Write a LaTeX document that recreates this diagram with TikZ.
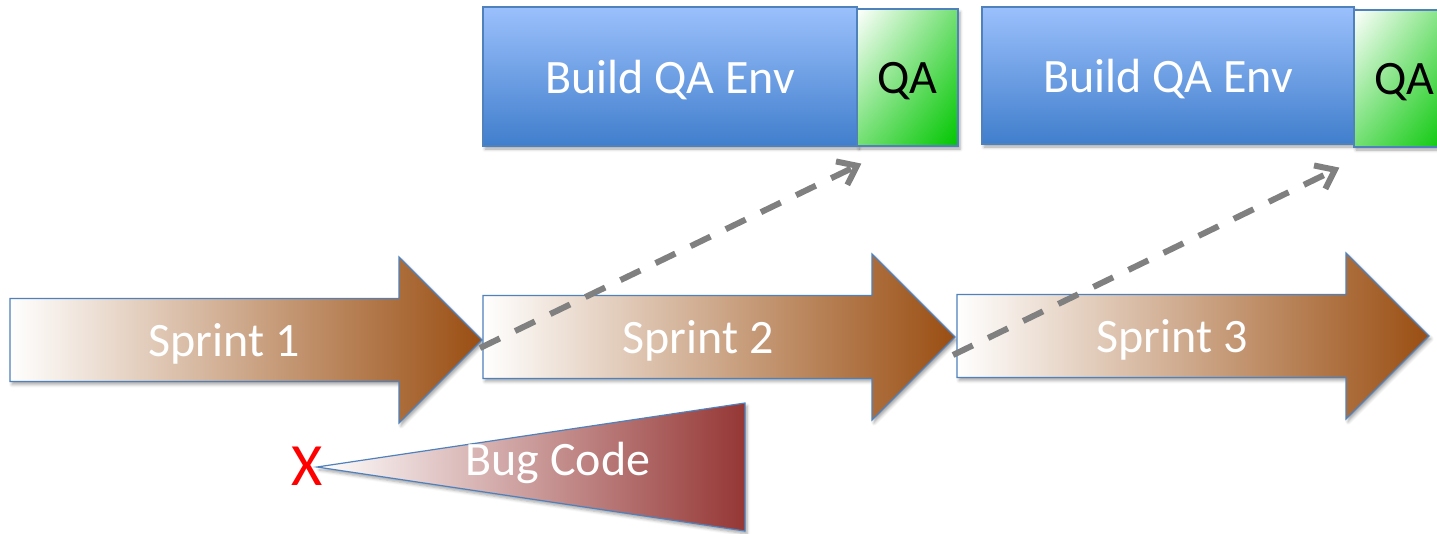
\documentclass[tikz,border=0pt]{standalone}
\usepackage{fontspec}
\setmainfont{Carlito}
\usetikzlibrary{arrows.meta,shadows.blur,shadings}

\definecolor{sprintbrown}{RGB}{154,78,18}
\definecolor{bugred}{RGB}{149,55,53}
\definecolor{edgeblue}{RGB}{79,129,189}
\definecolor{envtop}{RGB}{155,192,252}
\definecolor{envbot}{RGB}{64,126,204}
\definecolor{qagreen}{RGB}{0,198,0}
\definecolor{dashgray}{RGB}{128,128,128}

\tikzset{
  softshadow/.style={blur shadow={shadow xshift=2pt, shadow yshift=-3pt,
      shadow blur radius=3pt, shadow opacity=35}},
  label48/.style={font=\fontsize{48}{54}\selectfont, inner sep=0pt},
  envbox/.style={draw=edgeblue, line width=1.2pt, top color=envtop,
      bottom color=envbot, text=white, label48, text depth=0pt, softshadow},
  qabox/.style={draw=edgeblue, line width=1.2pt, upper left=white,
      upper right=qagreen!55, lower left=qagreen!55, lower right=qagreen,
      minimum width=101pt, minimum height=137pt, label48, text depth=0pt,
      softshadow},
  sprintarrow/.style={draw=edgeblue, line width=1.2pt, left color=white,
      right color=sprintbrown, softshadow},
  sprintlabel/.style={text=white, label48, anchor=base},
  bugwedge/.style={draw=edgeblue, line width=1.2pt, left color=white,
      right color=bugred, softshadow},
  handoff/.style={draw=dashgray, line width=6pt, dash pattern=on 22pt off 17pt,
      -{Straight Barb[length=17pt,width=26pt]}},
}

\begin{document}
\begin{tikzpicture}[x=1pt,y=-1pt]
\useasboundingbox (0,0) rectangle (1437,533);

% QA environment builds and QA windows
\node[envbox, minimum width=374pt, minimum height=139pt] (env1) at (670,76.5) {Build QA Env};
\node[qabox] (qa1) at (907.5,77.5) {QA};
\node[envbox, minimum width=372pt, minimum height=137pt] (env2) at (1168,75.5) {Build QA Env};
\node[qabox] (qa2) at (1404.5,78.5) {QA};

% sprint arrows: body 83 high, head 166 high, total length 472
\begin{scope}[shift={(10,340)}]
  \path[sprintarrow] (0,-41.5) -- (389,-41.5) -- (389,-83) -- (472,0)
     -- (389,83) -- (389,41.5) -- (0,41.5) -- cycle;
  \coordinate (tip1) at (472,0);
  \node[sprintlabel] (s1) at (214,16) {Sprint 1};
\end{scope}
\begin{scope}[shift={(483,337)}]
  \path[sprintarrow] (0,-41.5) -- (389,-41.5) -- (389,-83) -- (472,0)
     -- (389,83) -- (389,41.5) -- (0,41.5) -- cycle;
  \coordinate (tip2) at (472,0);
  \node[sprintlabel] (s2) at (215,16) {Sprint 2};
\end{scope}
\begin{scope}[shift={(957,336)}]
  \path[sprintarrow] (0,-41.5) -- (389,-41.5) -- (389,-83) -- (472,0)
     -- (389,83) -- (389,41.5) -- (0,41.5) -- cycle;
  \coordinate (tip3) at (472,0);
  \node[sprintlabel] (s3) at (215,16) {Sprint 3};
\end{scope}

% bug wedge growing to the right
\path[bugwedge] (317,467) -- (745,403) -- (745,531) -- cycle;
\node[label48, text=white, anchor=base] (bug) at (558,475) {Bug Code};
\node[font=\fontsize{60}{66}\selectfont, inner sep=0pt, text=red, anchor=base] (fail) at (307,485) {X};

% hand-offs from each sprint end to the next QA window
\coordinate (h1s) at ([shift={(-2,8)}]tip1);
\coordinate (h1e) at ([shift={(5,17)}]qa1.south west);
\coordinate (h2s) at ([shift={(-2,18)}]tip2);
\coordinate (h2e) at ([shift={(-14,20)}]qa2.south west);
\draw[handoff] (h1s) -- (h1e);
\draw[handoff] (h2s) -- (h2e);
\end{tikzpicture}
\end{document}
